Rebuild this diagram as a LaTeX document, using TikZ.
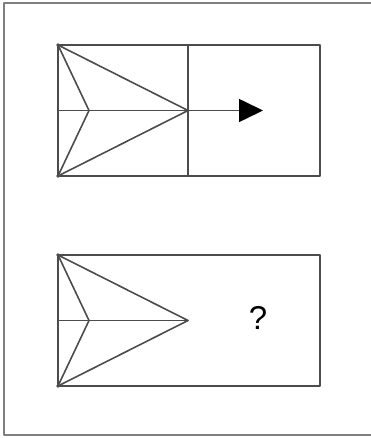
\documentclass[tikz,border=0pt]{standalone}
\usepackage{fontspec}
\setmainfont{Liberation Sans}
\usetikzlibrary{arrows.meta}
\definecolor{tratto}{gray}{0.3}
\definecolor{cornice}{gray}{0.5}
\begin{document}
\begin{tikzpicture}[x=1pt, y=-1pt, line width=1.6pt, line cap=round, line join=round, color=tratto]
        \useasboundingbox (0,0) rectangle (370,438);
        % Cornice (aperta a destra)
        \draw[cornice, line width=2pt] (372,3.5) -- (4,3.5) -- (4,434.5) -- (372,434.5);
        % Figure a freccia nei due riquadri
        \foreach \off in {45, 255} {
          \begin{scope}[shift={(0,\off)}]
            % Riquadro
            \draw (58,0) rectangle (320,131);
            % Punta esterna
            \draw (58,0) -- (188,65.5) -- (58,131);
            % Punta interna
            \draw (58,0) -- (89,65.5) -- (58,131);
            % Asse
            \draw (58,65.5) -- (188,65.5);
            % Vertici
            \fill (58,0) circle (1.8);
            \fill (58,131) circle (1.8);
          \end{scope}
        }
        % Divisione del riquadro superiore
        \draw (188,45) -- (188,176);
        % Freccia
        \coordinate (punta) at (188,110.5);
        \coordinate (fine) at (263,110.5);
        \fill (punta) circle (1.8);
        \draw[-{Triangle[length=24pt, width=23pt, color=black]}] (punta) -- (fine);
        % Incognita
        \node[text=black, font=\fontsize{33}{33}\selectfont] (domanda) at (258,318) {?};
    \end{tikzpicture}
\end{document}
